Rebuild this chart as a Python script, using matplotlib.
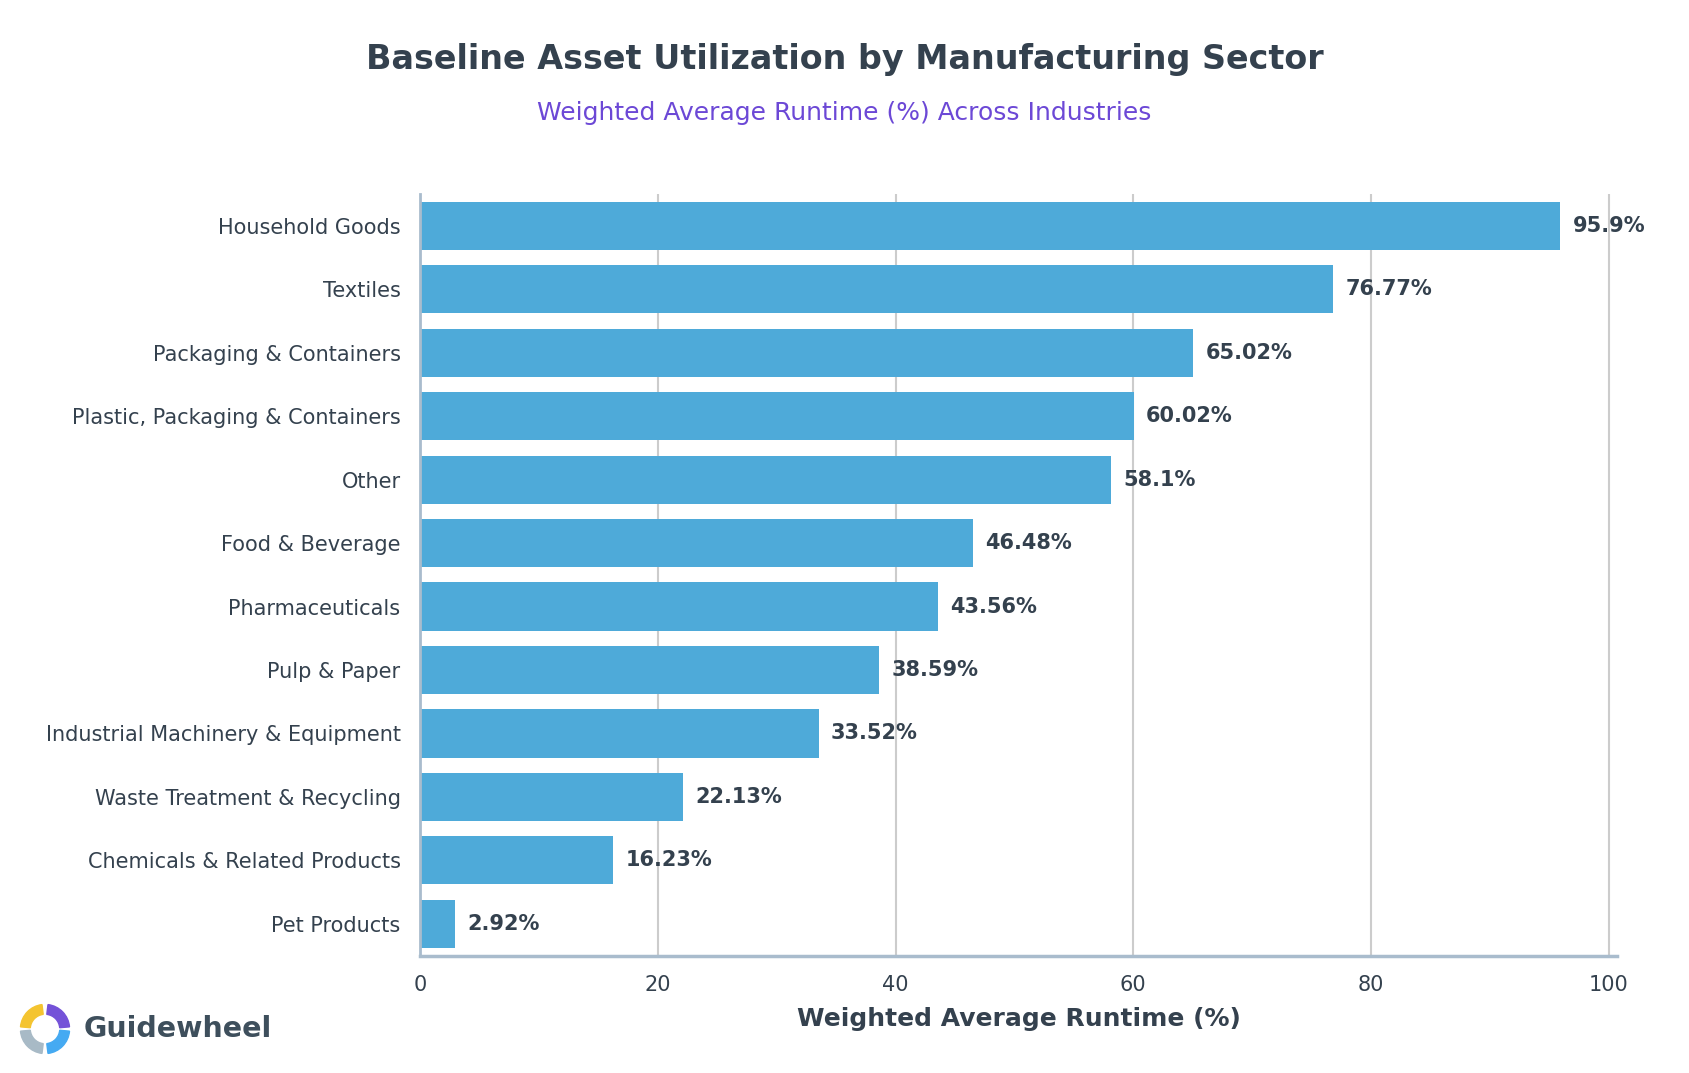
#!/usr/bin/env python3
"""Baseline asset utilization by manufacturing sector - horizontal bar chart."""

import matplotlib
matplotlib.use("Agg")
import matplotlib.pyplot as plt
from matplotlib.patches import Wedge
import numpy as np

SECTORS = [
    "Household Goods",
    "Textiles",
    "Packaging & Containers",
    "Plastic, Packaging & Containers",
    "Other",
    "Food & Beverage",
    "Pharmaceuticals",
    "Pulp & Paper",
    "Industrial Machinery & Equipment",
    "Waste Treatment & Recycling",
    "Chemicals & Related Products",
    "Pet Products",
]
RUNTIME = [95.9, 76.77, 65.02, 60.02, 58.1, 46.48, 43.56, 38.59, 33.52, 22.13, 16.23, 2.92]
X_TICKS = [0, 20, 40, 60, 80, 100]

BAR_COLOR = "#4eaad9"
TEXT_DARK = "#34414e"
SUBTITLE_COLOR = "#6c48d6"
GRID_COLOR = "#cccccc"
SPINE_COLOR = "#a9bccd"

fig = plt.figure(figsize=(16.89, 10.73), dpi=100)
ax = fig.add_axes([0.2487, 0.1095, 0.9574 - 0.2487, 0.819 - 0.1095])

y = np.arange(len(SECTORS))
ax.barh(y, RUNTIME, height=0.76, color=BAR_COLOR, zorder=2)
for yi, v in zip(y, RUNTIME):
    ax.annotate(f"{v:g}%", (v, yi), xytext=(9, 0), textcoords="offset points",
                va="center", ha="left", fontsize=15, fontweight="bold",
                color=TEXT_DARK)

ax.set_yticks(y)
ax.set_yticklabels(SECTORS)
ax.set_ylim(len(SECTORS) - 0.5, -0.5)
ax.set_xlim(0, max(RUNTIME) * 1.05)
ax.set_xticks(X_TICKS)

ax.tick_params(axis="both", length=0, labelsize=15, colors=TEXT_DARK)
ax.tick_params(axis="x", pad=14)
ax.tick_params(axis="y", pad=14)
ax.grid(True, axis="x", color=GRID_COLOR, linewidth=1.5, zorder=0)
ax.set_axisbelow(True)

for side in ("top", "right"):
    ax.spines[side].set_visible(False)
ax.spines["left"].set_color(SPINE_COLOR)
ax.spines["left"].set_linewidth(2)
ax.spines["bottom"].set_color(SPINE_COLOR)
ax.spines["bottom"].set_linewidth(2.5)

ax.set_xlabel("Weighted Average Runtime (%)", fontsize=18, fontweight="bold",
              color=TEXT_DARK, labelpad=9)

fig.text(0.5, 0.945, "Baseline Asset Utilization by Manufacturing Sector",
         ha="center", va="center", fontsize=24, fontweight="bold", color=TEXT_DARK)
fig.text(0.5, 0.895, "Weighted Average Runtime (%) Across Industries",
         ha="center", va="center", fontsize=18, color=SUBTITLE_COLOR)

# logo
lw, lh = 0.0336, 0.0504
lax = fig.add_axes([45 / 1689 - lw / 2, 1 - 1029 / 1073 - lh / 2, lw, lh])
lax.set_xlim(-1.1, 1.1)
lax.set_ylim(-1.1, 1.1)
lax.set_aspect("equal")
lax.axis("off")
for t1, t2, c in [(97, 175, "#f4c430"), (5, 83, "#7452d8"),
                  (277, 355, "#45aaf2"), (185, 263, "#a8bac6")]:
    lax.add_patch(Wedge((0, 0), 1.0, t1, t2, width=0.4, color=c))
fig.text(84 / 1689, 1 - 1029 / 1073, "Guidewheel", ha="left", va="center",
         fontsize=20.5, fontweight="bold", color="#3e4f5c")

fig.savefig("out.png", dpi=100)
